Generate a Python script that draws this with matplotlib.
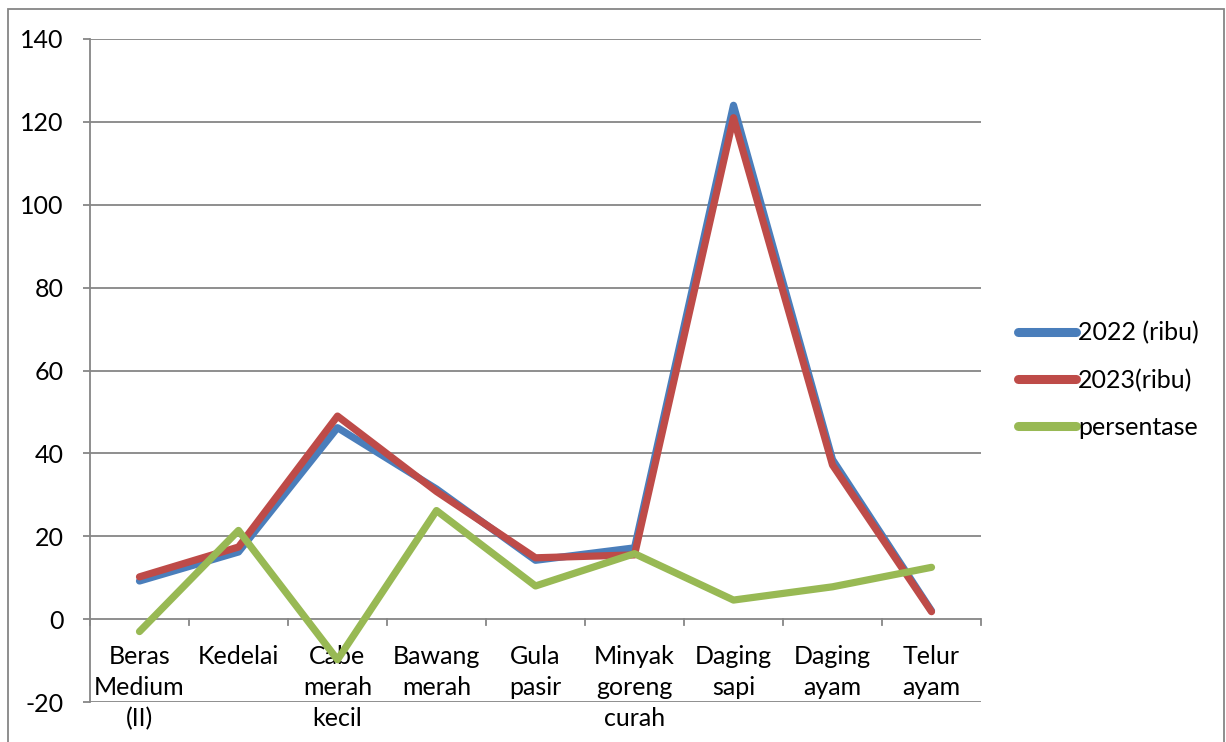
import matplotlib
matplotlib.use("Agg")
import matplotlib.pyplot as plt
from matplotlib.patches import Rectangle
from matplotlib.lines import Line2D

categories = ["Beras\nMedium\n(II)", "Kedelai", "Cabe\nmerah\nkecil", "Bawang\nmerah",
              "Gula\npasir", "Minyak\ngoreng\ncurah", "Daging\nsapi", "Daging\nayam", "Telur\nayam"]
series_2022 = [9.2, 16.2, 46.2, 31.4, 14.2, 17.2, 124.0, 38.5, 2.0]
series_2023 = [10.2, 17.4, 49.0, 30.8, 14.8, 15.5, 121.0, 37.2, 1.8]
persentase = [-3.0, 21.4, -9.8, 26.2, 8.0, 15.8, 4.6, 7.8, 12.5]
labels = ["2022 (ribu)", "2023(ribu)", "persentase"]
colors = ["#4A7EBB", "#BE4B48", "#98B954"]
yticks = [-20, 0, 20, 40, 60, 80, 100, 120, 140]

plt.rcParams['font.family'] = ['Lato', 'DejaVu Sans']
W, H = 1226, 742
FS = 18
fig = plt.figure(figsize=(W / 100, H / 100), dpi=100)
ax = fig.add_axes([90 / W, 1 - 702 / H, (981 - 90) / W, (702 - 39) / H])

grid_c = "#868686"
x = list(range(len(categories)))
for vals, lab, c in zip([series_2022, series_2023, persentase], labels, colors):
    ax.plot(x, vals, color=c, lw=5.2, solid_capstyle='round', solid_joinstyle='round',
            label=lab, zorder=3)

ax.set_xlim(-0.5, len(categories) - 0.5)
ax.set_ylim(-20, 140)
ax.set_yticks(yticks)
ax.set_yticklabels([str(v) for v in yticks], fontsize=FS)
for v in yticks:
    ax.axhline(v, color=grid_c, lw=1.3, zorder=1)

for s in ["top", "right", "bottom"]:
    ax.spines[s].set_visible(False)
ax.spines["left"].set_color(grid_c)
ax.spines["left"].set_linewidth(1.3)
ax.tick_params(axis='y', length=5, width=1.3, color=grid_c, pad=14)

# x axis at y=0 with boundary ticks
ax.set_xticks([])
for b in range(len(categories) + 1):
    ax.plot([b - 0.5, b - 0.5], [0, -1.5], color=grid_c, lw=1.3, zorder=1, clip_on=False)
for i, cat in enumerate(categories):
    ax.text(i, -6.2, cat, ha='center', va='top', fontsize=FS, linespacing=1.42, zorder=2)

handles = [Line2D([0], [0], color=c, lw=6.5, solid_capstyle='round') for c in colors]
fig.legend(handles, labels, loc='center left', bbox_to_anchor=(1018 / W, 1 - 380 / H),
           frameon=False, fontsize=FS, handlelength=2.3, handletextpad=0.1,
           labelspacing=0.95, borderpad=0, borderaxespad=0)

fig.patches.append(Rectangle((8 / W, -0.05), (1224 - 8) / W, 1.05 - 9 / H,
                             transform=fig.transFigure, fill=False, edgecolor=grid_c, lw=1.3))

fig.savefig("out.png", dpi=100)
